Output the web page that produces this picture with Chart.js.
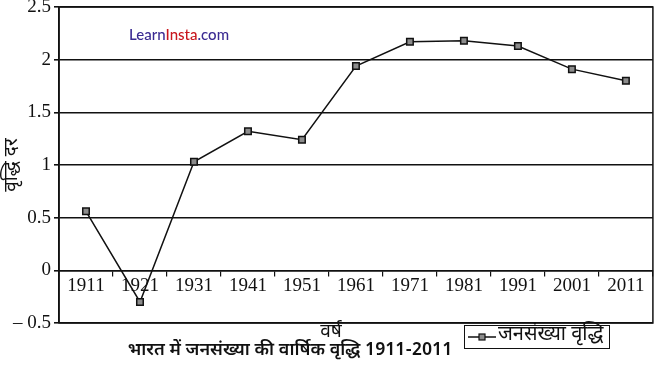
<!DOCTYPE html>
<html>
<head>
<meta charset="utf-8">
<script src="https://cdn.jsdelivr.net/npm/chart.js@4/dist/chart.umd.min.js"></script>
<style>
  html, body { margin: 0; padding: 0; background: #fff; }
  #wrap { width: 659px; height: 379px; position: relative; }
</style>
</head>
<body>
<div id="wrap"><canvas id="c" width="659" height="379"></canvas></div>
<script>
// ---- data ----
const categories = ['1911', '1921', '1931', '1941', '1951', '1961', '1971', '1981', '1991', '2001', '2011'];
const growthValues = [0.56, -0.30, 1.03, 1.32, 1.24, 1.94, 2.17, 2.18, 2.13, 1.91, 1.80];
const seriesLabel = 'जनसंख्या वृद्धि';
const yTickMin = -0.5;
const yTickMax = 2.5;
const yTickStep = 0.5;
const yTitle = 'वृद्धि दर';
const xTitle = 'वर्ष';
const captionText = 'भारत में जनसंख्या की वार्षिक वृद्धि 1911-2011';
const watermarkParts = [['Learn', '#3a2a92'], ['Insta', '#c8161d'], ['.com', '#3a2a92']];

const devFont = '"Noto Sans Devanagari", "Noto Sans", "Lohit Devanagari", sans-serif';
const serifFont = '"Liberation Serif", "Times New Roman", serif';

const extras = {
  id: 'extras',
  beforeDatasetsDraw(chart) {
    const {ctx, chartArea: a} = chart;
    ctx.save();
    ctx.strokeStyle = '#111';
    ctx.lineWidth = 1.5;
    ctx.strokeRect(a.left, a.top, a.right - a.left, a.bottom - a.top);
    ctx.restore();
  },
  afterDraw(chart) {
    const ctx = chart.ctx;
    const ds = chart.data.datasets[0];
    ctx.save();
    // watermark
    ctx.font = '500 15px Lato, "Open Sans", sans-serif';
    ctx.textBaseline = 'middle';
    let x = 129;
    watermarkParts.forEach(([t, c]) => {
      ctx.fillStyle = c;
      ctx.fillText(t, x, 35);
      x += ctx.measureText(t).width;
    });
    // x axis title
    ctx.fillStyle = '#111';
    ctx.font = '19px ' + devFont;
    ctx.textAlign = 'center';
    ctx.fillText(xTitle, 331, 333);
    // caption
    ctx.font = '600 18px ' + devFont;
    ctx.fillText(captionText, 290, 352);
    // legend
    ctx.lineWidth = 1;
    ctx.strokeStyle = '#111';
    ctx.strokeRect(464.5, 325.5, 145, 23);
    ctx.beginPath();
    ctx.moveTo(468, 337);
    ctx.lineTo(496, 337);
    ctx.lineWidth = 1.5;
    ctx.stroke();
    ctx.fillStyle = ds.pointBackgroundColor;
    ctx.fillRect(479, 334, 6, 6);
    ctx.lineWidth = 1.2;
    ctx.strokeRect(479, 334, 6, 6);
    ctx.fillStyle = '#111';
    ctx.textAlign = 'left';
    ctx.font = '20px ' + devFont;
    ctx.fillText(ds.label, 498, 336);
    ctx.restore();
  }
};

new Chart(document.getElementById('c'), {
  type: 'line',
  data: {
    labels: categories,
    datasets: [{
      label: seriesLabel,
      data: growthValues,
      borderColor: '#111',
      borderWidth: 1.5,
      pointStyle: 'rect',
      pointRadius: 4.6,
      pointBackgroundColor: '#8c8c8c',
      pointBorderColor: '#111',
      pointBorderWidth: 1.5,
      tension: 0,
      fill: false
    }]
  },
  options: {
    responsive: false,
    animation: false,
    layout: { padding: { left: 0, right: 4, top: 7, bottom: 56 } },
    plugins: {
      legend: { display: false },
      title: { display: false },
      tooltip: { enabled: false }
    },
    scales: {
      x: {
        type: 'category',
        position: { y: 0 },
        offset: true,
        grid: { display: true, drawOnChartArea: false, drawTicks: true, tickLength: 5, offset: true, color: '#111', lineWidth: 1.2 },
        border: { display: true, color: '#111', width: 1.5 },
        ticks: { color: '#111', padding: -1, font: { family: serifFont, size: 19 }, maxRotation: 0, autoSkip: false }
      },
      y: {
        min: yTickMin,
        max: yTickMax,
        ticks: {
          stepSize: yTickStep,
          color: '#111',
          padding: 3,
          font: { family: serifFont, size: 19 },
          callback: v => v < 0 ? '– ' + Math.abs(v) : String(v)
        },
        grid: { color: '#111', lineWidth: 1.6, tickLength: 5 },
        border: { display: true, color: '#111', width: 1.6 },
        title: { display: true, text: yTitle, color: '#111', font: { family: devFont, size: 19 }, padding: 2 },
        afterFit(s) { s.width = 59; s.paddingTop = 0; s.paddingBottom = 0; }
      }
    }
  },
  plugins: [extras]
});
</script>
</body>
</html>
